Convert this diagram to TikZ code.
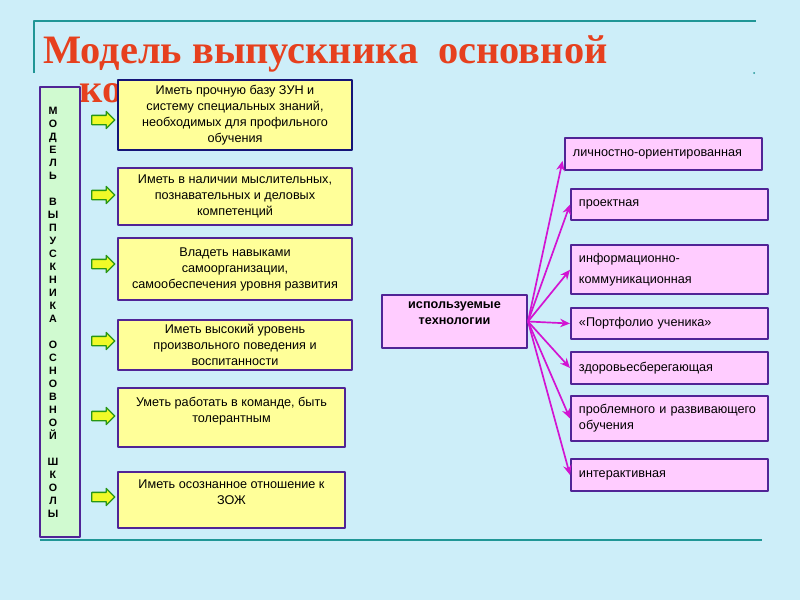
\documentclass[tikz,border=0pt]{standalone}
\usepackage{fontspec}
\setmainfont{Liberation Sans}
\newfontfamily\titlefont{Liberation Serif}
\usetikzlibrary{shapes.arrows,arrows.meta}
\definecolor{slidebg}{RGB}{205,238,249}
\definecolor{rulecol}{RGB}{32,150,150}
\definecolor{titlered}{RGB}{230,64,30}
\definecolor{boxline}{RGB}{80,36,150}
\definecolor{navyline}{RGB}{20,20,120}
\definecolor{boxyellow}{RGB}{255,255,153}
\definecolor{boxpink}{RGB}{255,204,255}
\definecolor{sidegreen}{RGB}{208,250,208}
\definecolor{arrgreen}{RGB}{40,150,20}
\definecolor{arryellow}{RGB}{240,250,40}
\definecolor{linkmag}{RGB}{210,20,210}
\newcommand\pxl{0.025cm}

\begin{document}
\begin{tikzpicture}[x=0.025cm, y=-0.025cm, line join=round,
    boxfont/.style={font=\fontsize{9}{11.4}\selectfont},
    ybox/.style={boxfont, draw=boxline, fill=boxyellow, line width=1.4pt, align=center, inner sep=2pt},
    pbox/.style={boxfont, draw=boxline, fill=boxpink, line width=1.4pt, anchor=north west,
      minimum width=197*\pxl, text width=181*\pxl, align=left, inner sep=8*\pxl},
    yarrow/.style={single arrow, draw=arrgreen, fill=arryellow, line width=0.9pt, inner sep=4*\pxl,
      minimum height=23*\pxl, single arrow head extend=4*\pxl, single arrow head indent=0pt},
    link/.style={draw=linkmag, line width=1.2pt, -{Stealth[length=7pt,width=6pt]}},
    title/.style={anchor=base west, text=titlered, font=\titlefont\bfseries\fontsize{28.7}{32}\selectfont, inner sep=0pt}]
    \fill[slidebg] (0,0) rectangle (800,600);
    \draw[rulecol, line width=2pt] (34,73) -- (34,21) -- (756,21);
    \draw[rulecol, line width=2pt] (40,540) -- (762,540);
    \fill[rulecol] (754,73) circle (1);
    \node[title] (title) at (43,63) {Модель выпускника\ \ основной};
    \node[title] (title2) at (79,102) {ко};
    \node[draw=boxline, fill=sidegreen, line width=1.4pt, minimum width=40*\pxl, minimum height=450*\pxl] (side) at (60,312) {};
    \node[anchor=north, inner sep=0pt, align=center, font=\bfseries\fontsize{7.6}{9.25}\selectfont] (sidetxt) at (53,107)
      {М\\О\\Д\\Е\\Л\\Ь\\\mbox{}\\В\\Ы\\П\\У\\С\\К\\Н\\И\\К\\А\\\mbox{}\\О\\С\\Н\\О\\В\\Н\\О\\Й\\\mbox{}\\Ш\\К\\О\\Л\\Ы};
    \foreach \y in {120,195,264,341,416,497} \node[yarrow] (ya\y) at (101,\y) {};
    \node[ybox, draw=navyline, minimum width=234*\pxl, minimum height=70*\pxl] (k1) at (235,115)
      {Иметь прочную базу ЗУН и\\систему специальных знаний,\\необходимых для профильного\\обучения};
    \node[ybox, minimum width=234*\pxl, minimum height=57*\pxl] (k2) at (235,196.5)
      {Иметь в наличии мыслительных,\\познавательных и деловых\\компетенций};
    \node[ybox, minimum width=234*\pxl, minimum height=62*\pxl] (k3) at (235,269)
      {Владеть навыками\\самоорганизации,\\самообеспечения уровня развития};
    \node[ybox, minimum width=234*\pxl, minimum height=50*\pxl] (k4) at (235,345)
      {Иметь высокий уровень\\произвольного поведения и\\воспитанности};
    \node[ybox, minimum width=227*\pxl, minimum height=59*\pxl] (k5) at (231.5,417.5)
      {Уметь работать в команде, быть\\толерантным\\\mbox{}};
    \node[ybox, minimum width=227*\pxl, minimum height=56*\pxl] (k6) at (231.5,500)
      {Иметь осознанное отношение к\\ЗОЖ\\\mbox{}};
    \node[ybox, fill=boxpink, font=\bfseries\fontsize{9}{11.4}\selectfont, minimum width=145*\pxl, minimum height=53*\pxl] (tech) at (454.5,321.5)
      {используемые\\технологии\\\mbox{}};
    \node[pbox, minimum width=196*\pxl, minimum height=32*\pxl] (t1) at (564,137) {личностно-ориентированная};
    \node[pbox, minimum height=31*\pxl] (t2) at (570,188) {проектная};
    \node[pbox, minimum height=44*\pxl] (t3) at (570,244) {информационно-\\[4pt]коммуникационная};
    \node[pbox, minimum height=31*\pxl] (t4) at (570,307) {«Портфолио ученика»};
    \node[pbox, minimum height=32*\pxl] (t5) at (570,351) {здоровьесберегающая};
    \node[pbox, minimum height=45*\pxl] (t6) at (570,395) {проблемного и развивающего\\обучения};
    \node[pbox, minimum height=32*\pxl] (t7) at (570,458) {интерактивная};
    \foreach \i/\s in {1/7,2/0,3/0,4/0,5/0,6/0,7/0} \draw[link, shorten >=\s*\pxl] (tech.east) -- (t\i.west);
\end{tikzpicture}
\end{document}
